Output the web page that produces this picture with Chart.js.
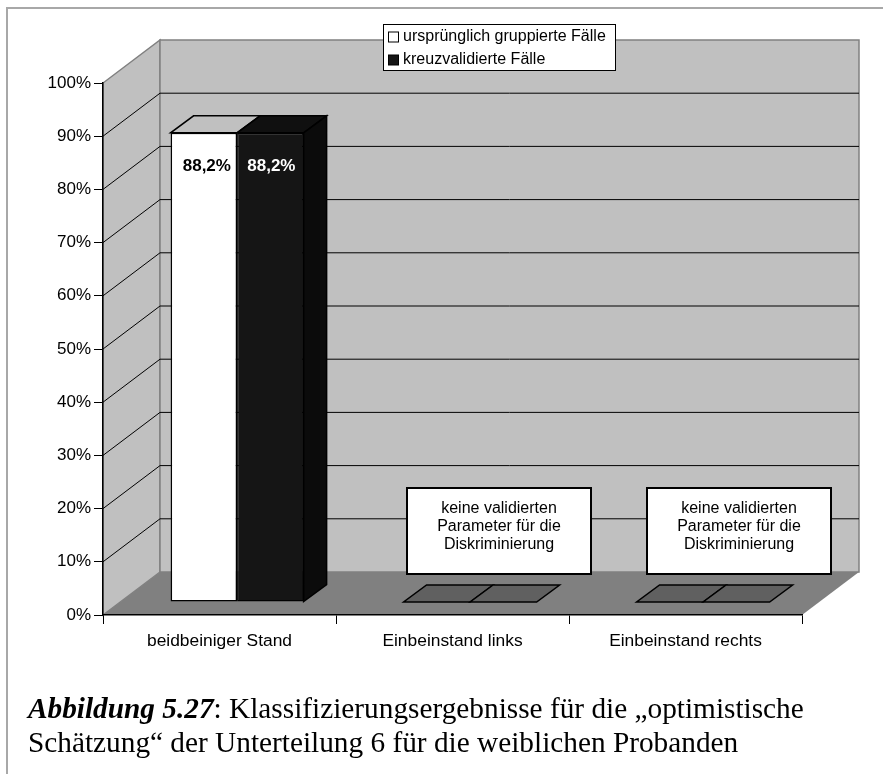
<!DOCTYPE html>
<html>
<head>
<meta charset="utf-8">
<script src="https://cdn.jsdelivr.net/npm/chart.js@4/dist/chart.umd.min.js"></script>
<style>
  html, body { margin: 0; padding: 0; background: #fff; overflow: hidden; }
  #frame { position: absolute; left: 6px; top: 7px; width: 900px; height: 800px;
           border-left: 2px solid #a8a8a8; border-top: 2px solid #a8a8a8; }
  #chart { position: absolute; left: 0; top: 0; }
  .caption { position: absolute; left: 28px; white-space: nowrap; color: #000;
             font: 29.3px/32px "Liberation Serif", serif; }
  .caption b { font-style: italic; }
</style>
</head>
<body>
<div id="frame"></div>
<canvas id="chart" width="883" height="774"></canvas>
<div class="caption" style="top: 692px"><b>Abbildung 5.27</b>: Klassifizierungsergebnisse für die „optimistische</div>
<div class="caption" style="top: 726px">Schätzung“ der Unterteilung 6 für die weiblichen Probanden</div>
<script>
const categories = ['beidbeiniger Stand', 'Einbeinstand links', 'Einbeinstand rechts'];
const groupedCases = [88.2, 0, 0];
const crossValidatedCases = [88.2, 0, 0];
const seriesNames = ['ursprünglich gruppierte Fälle', 'kreuzvalidierte Fälle'];
const yMax = 100;
const yStep = 10;
const noDataLines = ['keine validierten', 'Parameter für die', 'Diskriminierung'];

const FONT = '"Liberation Sans", Arial, sans-serif';
const WALL = '#c0c0c0';
const WALL_EDGE = '#808080';
const FLOOR = '#808080';
const DARK = '#151515';
// depth of the whole box, of the bars, and where the bars sit inside the box
const BOX_DX = 57, BOX_DY = 43;
const BAR_DX = 23, BAR_DY = 17;
const INSET_DX = 17.6, INSET_DY = 13;

function poly(ctx, pts, fill, stroke, width) {
  ctx.beginPath();
  pts.forEach((p, i) => i ? ctx.lineTo(p[0], p[1]) : ctx.moveTo(p[0], p[1]));
  ctx.closePath();
  if (fill) { ctx.fillStyle = fill; ctx.fill(); }
  if (stroke) { ctx.strokeStyle = stroke; ctx.lineWidth = width || 1; ctx.stroke(); }
}

// walls and floor behind the axes
const boxPlugin = {
  id: 'box3d',
  beforeDraw(chart) {
    const { ctx } = chart;
    const x = chart.scales.x, y = chart.scales.y;
    const l = x.left, r = x.right, b = y.getPixelForValue(0), t = y.getPixelForValue(yMax);

    poly(ctx, [[l, b], [l + BOX_DX, b - BOX_DY], [l + BOX_DX, t - BOX_DY], [l, t]], WALL, WALL_EDGE, 1.5);
    poly(ctx, [[l + BOX_DX, b - BOX_DY], [r + BOX_DX, b - BOX_DY], [r + BOX_DX, t - BOX_DY], [l + BOX_DX, t - BOX_DY]], WALL, WALL_EDGE, 1.5);
    poly(ctx, [[l, b], [r, b], [r + BOX_DX, b - BOX_DY], [l + BOX_DX, b - BOX_DY]], FLOOR);

    ctx.strokeStyle = '#000';
    ctx.lineWidth = 1;
    for (let v = yStep; v < yMax; v += yStep) {
      const py = y.getPixelForValue(v);
      ctx.beginPath();
      ctx.moveTo(l, py);
      ctx.lineTo(l + BOX_DX, py - BOX_DY);
      ctx.lineTo(r + BOX_DX, py - BOX_DY);
      ctx.stroke();
    }
  }
};

// bars are moved into the box and get their top and side faces
const barPlugin = {
  id: 'bar3d',
  beforeDatasetsDraw(chart) {
    chart.ctx.save();
    chart.ctx.translate(INSET_DX, -INSET_DY);
  },
  afterDatasetsDraw(chart) {
    const { ctx } = chart;
    chart.data.datasets.forEach((ds, di) => {
      chart.getDatasetMeta(di).data.forEach((bar, i) => {
        const left = bar.x - bar.width / 2, right = bar.x + bar.width / 2;
        const empty = ds.data[i] === 0;
        const topFill = empty ? '#606060' : (di === 0 ? WALL : '#101010');
        poly(ctx, [[left, bar.y], [right, bar.y], [right + BAR_DX, bar.y - BAR_DY], [left + BAR_DX, bar.y - BAR_DY]], topFill, '#000', 1.5);
        if (di === 1 && !empty) {
          poly(ctx, [[right, bar.y], [right + BAR_DX, bar.y - BAR_DY], [right + BAR_DX, bar.base - BAR_DY], [right, bar.base]], '#0b0b0b', '#000', 1.5);
        }
        if (!empty) {
          ctx.font = 'bold 17px ' + FONT;
          ctx.textAlign = 'center';
          ctx.textBaseline = 'middle';
          ctx.fillStyle = di === 0 ? '#000' : '#fff';
          ctx.fillText(ds.data[i].toFixed(1).replace('.', ',') + '%', bar.x + (di === 0 ? 3 : 1), bar.y + 34);
        }
      });
    });
    ctx.restore();
  },
  afterDraw(chart) {
    const { ctx } = chart;
    const x = chart.scales.x;

    // note boxes for the two categories without parameters
    [[1, 46.5], [2, 53.5]].forEach(([i, shift]) => {
      const cx = x.getPixelForValue(i) + shift;
      ctx.fillStyle = '#fff';
      ctx.fillRect(cx - 92, 488, 184, 86);
      ctx.strokeStyle = '#000';
      ctx.lineWidth = 2;
      ctx.strokeRect(cx - 92, 488, 184, 86);
      ctx.fillStyle = '#000';
      ctx.font = '16px ' + FONT;
      ctx.textAlign = 'center';
      ctx.textBaseline = 'middle';
      noDataLines.forEach((line, n) => ctx.fillText(line, cx, 509 + n * 18));
    });

    // legend
    ctx.fillStyle = '#fff';
    ctx.fillRect(383.5, 24.5, 232, 46);
    ctx.strokeStyle = '#000';
    ctx.lineWidth = 1;
    ctx.strokeRect(383.5, 24.5, 232, 46);
    ctx.font = '16px ' + FONT;
    ctx.textAlign = 'left';
    ctx.textBaseline = 'middle';
    chart.data.datasets.forEach((ds, di) => {
      const rowY = 37 + di * 23;
      ctx.fillStyle = ds.backgroundColor;
      ctx.fillRect(388.5, rowY - 5, 10, 10);
      ctx.strokeStyle = '#000';
      ctx.strokeRect(388.5, rowY - 5, 10, 10);
      ctx.fillStyle = '#000';
      ctx.fillText(ds.label, 403, rowY);
    });
  }
};

new Chart(document.getElementById('chart'), {
  type: 'bar',
  data: {
    labels: categories,
    datasets: [
      { label: seriesNames[0], data: groupedCases, backgroundColor: '#ffffff', borderColor: '#000', borderWidth: 1.5, borderSkipped: false },
      { label: seriesNames[1], data: crossValidatedCases, backgroundColor: DARK, borderColor: '#000', borderWidth: 1.5, borderSkipped: false }
    ]
  },
  plugins: [boxPlugin, barPlugin],
  options: {
    responsive: false,
    animation: false,
    events: [],
    layout: { padding: { top: 83, right: 81, left: 0, bottom: 99 } },
    datasets: { bar: { categoryPercentage: 0.571, barPercentage: 1 } },
    plugins: { legend: { display: false }, tooltip: { enabled: false }, title: { display: false } },
    scales: {
      x: {
        afterFit: s => { s.height = 60; },
        border: { display: true, color: '#000', width: 1.5 },
        grid: { drawOnChartArea: false, color: '#000', tickLength: 9 },
        ticks: { color: '#000', padding: 7, maxRotation: 0, font: { family: FONT, size: 17.4 } }
      },
      y: {
        min: 0,
        max: yMax,
        afterFit: s => { s.width = 103; },
        border: { display: true, color: '#000', width: 1.5 },
        grid: { drawOnChartArea: false, color: '#000', tickLength: 9 },
        ticks: { color: '#000', padding: 3, stepSize: yStep, callback: v => v + '%', font: { family: FONT, size: 17 } }
      }
    }
  }
});
</script>
</body>
</html>
